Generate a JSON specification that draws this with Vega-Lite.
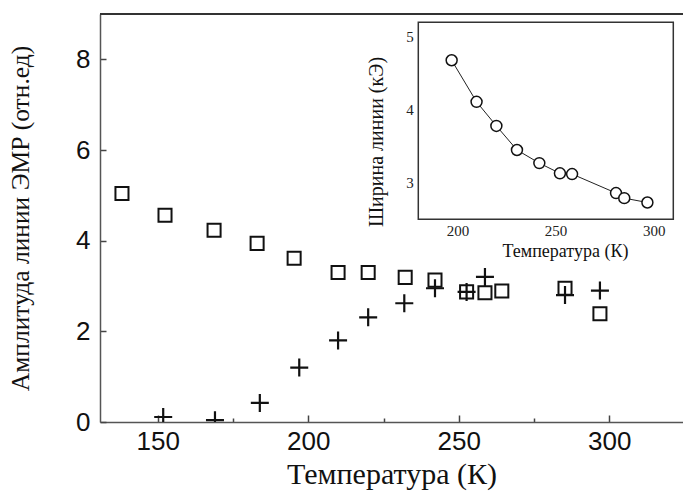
{
  "$schema": "https://vega.github.io/schema/vega-lite/v6.json",
  "width": 583,
  "height": 408,
  "autosize": {"type": "none"},
  "padding": {"left": 100, "top": 14, "right": 0, "bottom": 76},
  "background": "white",
  "config": {"view": {"stroke": null}},
  "datasets": {
    "squares": [
      {"T": 138.1, "A": 5.04}, {"T": 152.4, "A": 4.56}, {"T": 168.7, "A": 4.23}, {"T": 183.0, "A": 3.94},
      {"T": 195.3, "A": 3.61}, {"T": 209.9, "A": 3.30}, {"T": 219.9, "A": 3.30}, {"T": 232.2, "A": 3.19},
      {"T": 242.1, "A": 3.13}, {"T": 252.6, "A": 2.87}, {"T": 258.7, "A": 2.85}, {"T": 264.3, "A": 2.89},
      {"T": 285.3, "A": 2.95}, {"T": 296.9, "A": 2.39}
    ],
    "pluses": [
      {"T": 151.8, "A": 0.11}, {"T": 169.0, "A": 0.04}, {"T": 183.9, "A": 0.42}, {"T": 197.0, "A": 1.2},
      {"T": 209.9, "A": 1.8}, {"T": 219.9, "A": 2.31}, {"T": 231.9, "A": 2.62}, {"T": 242.1, "A": 2.95},
      {"T": 252.6, "A": 2.87}, {"T": 258.7, "A": 3.2}, {"T": 285.3, "A": 2.8}, {"T": 296.9, "A": 2.9}
    ],
    "width": [
      {"T": 197.0, "W": 4.68}, {"T": 209.7, "W": 4.11}, {"T": 219.8, "W": 3.78}, {"T": 230.3, "W": 3.45},
      {"T": 241.7, "W": 3.27}, {"T": 252.2, "W": 3.13}, {"T": 258.4, "W": 3.12}, {"T": 280.8, "W": 2.86},
      {"T": 285.0, "W": 2.79}, {"T": 296.8, "W": 2.73}
    ]
  },
  "layer": [
    {
      "layer": [
        {
          "data": {"name": "squares"},
          "mark": {"type": "point", "shape": "square", "filled": false, "size": 170, "strokeWidth": 2, "color": "#111", "opacity": 1},
          "encoding": {
            "x": {
              "field": "T", "type": "quantitative",
              "scale": {"domain": [130.8, 324.5], "nice": false, "zero": false},
              "axis": {
                "orient": "bottom",
                "title": "Температура (К)",
                "grid": false,
                "values": [150, 175, 200, 225, 250, 275, 300],
                "labelExpr": "datum.value % 50 === 0 ? datum.label : ''",
                "labelOverlap": false,
                "tickSize": {"condition": {"test": "datum.value % 50 === 0", "value": -7}, "value": -4},
                "tickWidth": 1.5, "tickColor": "#444",
                "domainWidth": 1.5, "domainColor": "#555",
                "labelFont": "Liberation Sans", "labelFontSize": 26, "labelPadding": 13, "labelColor": "#111",
                "titleFont": "Liberation Serif", "titleFontSize": 30, "titleFontWeight": "normal", "titlePadding": 2, "titleColor": "#111"
              }
            },
            "y": {
              "field": "A", "type": "quantitative",
              "scale": {"domain": [0, 9], "nice": false},
              "axis": {
                "orient": "left",
                "title": "Амплитуда линии ЭМР (отн.ед)",
                "grid": false,
                "values": [0, 2, 4, 6, 8],
                "format": "d",
                "labelOverlap": false,
                "tickSize": -6,
                "tickWidth": 1.5, "tickColor": "#444",
                "domainWidth": 1.5, "domainColor": "#555",
                "labelFont": "Liberation Sans", "labelFontSize": 26, "labelPadding": 16, "labelColor": "#111",
                "titleFont": "Liberation Serif", "titleFontSize": 25.5, "titleFontWeight": "normal", "titlePadding": 42, "titleColor": "#111",
                "titleLimit": 1000
              }
            }
          }
        },
        {
          "data": {"name": "pluses"},
          "mark": {"type": "point", "shape": "M-1,0L1,0M0,-1L0,1", "filled": false, "size": 324, "strokeWidth": 2.2, "color": "#111", "opacity": 1, "clip": true},
          "encoding": {
            "x": {"field": "T", "type": "quantitative", "title": "Температура (К)"},
            "y": {"field": "A", "type": "quantitative", "title": "Амплитуда линии ЭМР (отн.ед)"}
          }
        },
        {
          "data": {"values": [{}]},
          "mark": {"type": "rule", "color": "#333", "strokeWidth": 1.8},
          "encoding": {"y": {"datum": 9, "type": "quantitative", "title": "Амплитуда линии ЭМР (отн.ед)"}}
        }
      ]
    },
    {
      "layer": [
        {
          "data": {"values": [{}]},
          "mark": {"type": "rect", "fill": "white", "stroke": "#333", "strokeWidth": 1.5},
          "encoding": {
            "x": {"datum": 180, "type": "quantitative", "title": "Температура (К)", "scale": {"domain": [180, 310], "range": [318.3, 573.3], "nice": false, "zero": false}},
            "x2": {"datum": 310},
            "y": {"datum": 2.5, "type": "quantitative", "title": "Ширина линии (кЭ)", "scale": {"domain": [2.5, 5.2], "range": [205.3, 8.3], "nice": false, "zero": false}},
            "y2": {"datum": 5.2}
          }
        },
        {
          "data": {"name": "width"},
          "mark": {"type": "line", "color": "#222", "strokeWidth": 1},
          "encoding": {
            "x": {
              "field": "T", "type": "quantitative",
              "scale": {"domain": [180, 310], "range": [318.3, 573.3], "nice": false, "zero": false},
              "axis": {
                "orient": "bottom", "offset": -202.7,
                "title": "Температура (К)",
                "grid": false,
                "values": [200, 225, 250, 275, 300],
                "labelExpr": "datum.value % 50 === 0 ? datum.label : ''",
                "labelOverlap": false,
                "tickSize": {"condition": {"test": "datum.value % 50 === 0", "value": -4}, "value": -2},
                "tickColor": "#444",
                "domain": false,
                "labelFont": "Liberation Serif", "labelFontSize": 15, "labelPadding": 8, "labelColor": "#222",
                "titleFont": "Liberation Serif", "titleFontSize": 18, "titleFontWeight": "normal", "titlePadding": 2, "titleColor": "#111",
                "titleX": 465
              }
            },
            "y": {
              "field": "W", "type": "quantitative",
              "scale": {"domain": [2.5, 5.2], "range": [205.3, 8.3], "nice": false, "zero": false},
              "axis": {
                "orient": "left", "offset": -318.3,
                "title": "Ширина линии (кЭ)",
                "grid": false,
                "values": [3, 4, 5],
                "format": "d",
                "labelOverlap": false,
                "tickSize": -3,
                "tickColor": "#444",
                "domain": false,
                "labelFont": "Liberation Serif", "labelFontSize": 15, "labelPadding": 8, "labelColor": "#222",
                "titleFont": "Liberation Serif", "titleFontSize": 20, "titleFontWeight": "normal", "titlePadding": 19, "titleColor": "#111",
                "titleY": 127.5, "titleLimit": 1000
              }
            }
          }
        },
        {
          "data": {"name": "width"},
          "mark": {"type": "point", "shape": "circle", "filled": true, "fill": "white", "stroke": "#111", "strokeWidth": 1.5, "size": 120, "opacity": 1},
          "encoding": {
            "x": {"field": "T", "type": "quantitative", "title": "Температура (К)"},
            "y": {"field": "W", "type": "quantitative", "title": "Ширина линии (кЭ)"}
          }
        }
      ]
    }
  ],
  "resolve": {"scale": {"x": "independent", "y": "independent"}, "axis": {"x": "independent", "y": "independent"}}
}
